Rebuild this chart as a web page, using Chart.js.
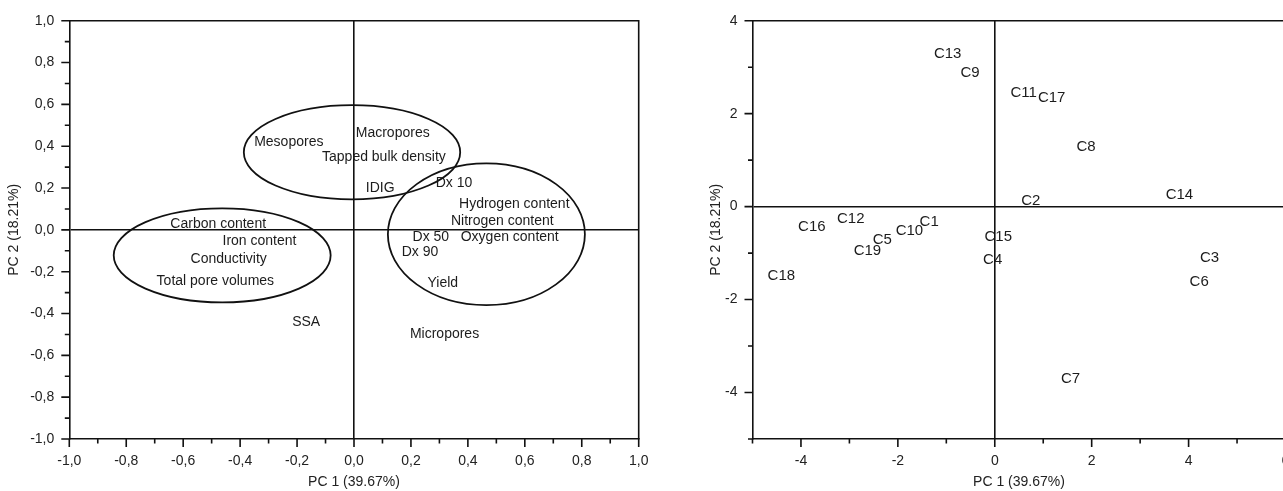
<!DOCTYPE html>
<html>
<head>
<meta charset="utf-8">
<script src="https://cdn.jsdelivr.net/npm/chart.js@4.4.1/dist/chart.umd.min.js"></script>
<style>
html,body{margin:0;padding:0;overflow:hidden;background:#fff;width:1283px;height:491px;}
#loadings{position:absolute;left:0;top:0;}
#scores{position:absolute;left:660px;top:0;}
</style>
</head>
<body>
<canvas id="loadings" width="660" height="491"></canvas>
<canvas id="scores" width="640" height="491"></canvas>
<script>
// ---------- Loading plot (left) ----------
const loadingLabels = ["Macropores","Mesopores","Tapped bulk density","IDIG","Dx 10","Hydrogen content","Nitrogen content","Oxygen content","Dx 50","Dx 90","Yield","Micropores","SSA","Carbon content","Iron content","Conductivity","Total pore volumes"];
const loadingPC1 = [0.136,-0.229,0.105,0.092,0.351,0.563,0.521,0.547,0.270,0.232,0.312,0.318,-0.168,-0.477,-0.332,-0.440,-0.487];
const loadingPC2 = [0.461,0.421,0.349,0.198,0.225,0.123,0.043,-0.033,-0.037,-0.108,-0.253,-0.500,-0.440,0.027,-0.056,-0.140,-0.245];
const loadingTickValues = [-1,-0.8,-0.6,-0.4,-0.2,0,0.2,0.4,0.6,0.8,1];
const loadingTickLabels = ["-1,0","-0,8","-0,6","-0,4","-0,2","0,0","0,2","0,4","0,6","0,8","1,0"];
// grouping ellipses (centre and semi-axes, in loading units)
const groupCenterPC1 = [-0.007,-0.463,0.465];
const groupCenterPC2 = [0.371,-0.122,-0.021];
const groupRadiusPC1 = [0.380,0.381,0.346];
const groupRadiusPC2 = [0.225,0.225,0.339];

// ---------- Score plot (right) ----------
const scoreLabels = ["C1","C2","C3","C4","C5","C6","C7","C8","C9","C10","C11","C12","C13","C14","C15","C16","C17","C18","C19"];
const scorePC1 = [-1.354,0.745,4.434,-0.043,-2.321,4.219,1.565,1.884,-0.509,-1.762,0.595,-2.973,-0.972,3.811,0.072,-3.775,1.175,-4.405,-2.629];
const scorePC2 = [-0.323,0.115,-1.104,-1.147,-0.717,-1.613,-3.700,1.276,2.875,-0.516,2.444,-0.265,3.290,0.258,-0.645,-0.430,2.337,-1.491,-0.961];
const scoreXTickValues = [-4,-2,0,2,4,6];
const scoreXTickLabels = ["-4","-2","0","2","4","6"];
const scoreYTickValues = [-4,-2,0,2,4];
const scoreYTickLabels = ["-4","-2","0","2","4"];

const axisTitleX = "PC 1 (39.67%)";
const axisTitleY = "PC 2 (18.21%)";

Chart.defaults.font.family = "'Liberation Sans', Arial, sans-serif";
Chart.defaults.font.size = 14;
Chart.defaults.color = "#222";

function labelFrom(values, labels) {
  return function(v) {
    for (let i = 0; i < values.length; i++) if (Math.abs(values[i] - v) < 1e-9) return labels[i];
    return "";
  };
}

const framePlugin = {
  id: "frame",
  afterDraw(chart) {
    const ctx = chart.ctx;
    const {left, right, top, bottom} = chart.chartArea;
    const xs = chart.scales.x, ys = chart.scales.y;
    ctx.save();
    ctx.strokeStyle = "#111";
    ctx.lineWidth = 1.6;
    ctx.beginPath();
    ctx.moveTo(left, top); ctx.lineTo(right, top); ctx.lineTo(right, bottom);
    ctx.stroke();
    ctx.beginPath();
    xs.ticks.forEach(t => {
      const px = xs.getPixelForValue(t.value);
      const len = t.label ? 8 : 4.5;
      ctx.moveTo(px, bottom); ctx.lineTo(px, bottom + len);
    });
    ys.ticks.forEach(t => {
      const py = ys.getPixelForValue(t.value);
      const len = t.label ? 8 : 4.5;
      ctx.moveTo(left, py); ctx.lineTo(left - len, py);
    });
    ctx.stroke();
    ctx.restore();
  }
};

const textPlugin = {
  id: "pointText",
  afterDatasetsDraw(chart) {
    const ctx = chart.ctx;
    const ds = chart.data.datasets[0];
    const meta = chart.getDatasetMeta(0);
    ctx.save();
    ctx.fillStyle = "#1c1c1c";
    ctx.font = ds.textSize + "px 'Liberation Sans', Arial, sans-serif";
    ctx.textAlign = "center";
    ctx.textBaseline = "middle";
    meta.data.forEach((el, i) => ctx.fillText(ds.pointText[i], el.x, el.y));
    ctx.restore();
  }
};

const ellipsePlugin = {
  id: "groups",
  afterDatasetsDraw(chart, args, opts) {
    if (!opts || !opts.cx) return;
    const ctx = chart.ctx;
    const xs = chart.scales.x, ys = chart.scales.y;
    ctx.save();
    ctx.strokeStyle = "#111";
    ctx.lineWidth = 1.8;
    for (let i = 0; i < opts.cx.length; i++) {
      const px = xs.getPixelForValue(opts.cx[i]);
      const py = ys.getPixelForValue(opts.cy[i]);
      const rx = Math.abs(xs.getPixelForValue(opts.cx[i] + opts.rx[i]) - px);
      const ry = Math.abs(ys.getPixelForValue(opts.cy[i] + opts.ry[i]) - py);
      ctx.beginPath();
      ctx.ellipse(px, py, rx, ry, 0, 0, Math.PI * 2);
      ctx.stroke();
    }
    ctx.restore();
  }
};

function zeroGrid(ctx) {
  return ctx.tick && Math.abs(ctx.tick.value) < 1e-9 ? "#111" : "rgba(0,0,0,0)";
}

function makeScales(o) {
  return {
    x: {
      type: "linear", min: o.xmin, max: o.xmax,
      afterFit(s) { s.height = 52; },
      afterBuildTicks(s) {
        const t = [];
        for (let v = o.xmin; v <= o.xmax + 1e-9; v += o.xstep) t.push({value: Math.round(v * 1000) / 1000});
        s.ticks = t;
      },
      ticks: {autoSkip: false, maxRotation: 0, padding: 0, color: "#222", callback: labelFrom(o.xvals, o.xlabels)},
      grid: {drawOnChartArea: true, drawTicks: true, tickLength: 14, tickColor: "rgba(0,0,0,0)", color: zeroGrid, lineWidth: 1.6},
      border: {display: true, color: "#111", width: 1.6},
      title: {display: true, text: axisTitleX, color: "#222", font: {size: 14}, padding: {top: 0, bottom: 0}}
    },
    y: {
      type: "linear", min: o.ymin, max: o.ymax,
      afterFit(s) { s.width = o.yw; },
      afterBuildTicks(s) {
        const t = [];
        for (let v = o.ymin; v <= o.ymax + 1e-9; v += o.ystep) t.push({value: Math.round(v * 1000) / 1000});
        s.ticks = t;
      },
      ticks: {autoSkip: false, padding: 0, color: "#222", callback: labelFrom(o.yvals, o.ylabels)},
      grid: {drawOnChartArea: true, drawTicks: true, tickLength: 15, tickColor: "rgba(0,0,0,0)", color: zeroGrid, lineWidth: 1.6},
      border: {display: true, color: "#111", width: 1.6},
      title: {display: true, text: axisTitleY, color: "#222", font: {size: 14}, padding: {top: 5.6, bottom: 0}}
    }
  };
}

new Chart(document.getElementById("loadings"), {
  type: "scatter",
  data: {
    datasets: [{
      data: loadingPC1.map((x, i) => ({x: x, y: loadingPC2[i]})),
      pointText: loadingLabels, textSize: 14,
      pointRadius: 0, pointHoverRadius: 0
    }]
  },
  options: {
    responsive: false, animation: false, devicePixelRatio: 1,
    layout: {padding: {left: 0, top: 20.7, right: 21.3, bottom: 0}},
    plugins: {
      legend: {display: false}, tooltip: {enabled: false},
      groups: {cx: groupCenterPC1, cy: groupCenterPC2, rx: groupRadiusPC1, ry: groupRadiusPC2}
    },
    scales: makeScales({xmin: -1, xmax: 1, xstep: 0.1, ymin: -1, ymax: 1, ystep: 0.1,
      xvals: loadingTickValues, xlabels: loadingTickLabels, yvals: loadingTickValues, ylabels: loadingTickLabels, yw: 69.3})
  },
  plugins: [framePlugin, textPlugin, ellipsePlugin]
});

new Chart(document.getElementById("scores"), {
  type: "scatter",
  data: {
    datasets: [{
      data: scorePC1.map((x, i) => ({x: x, y: scorePC2[i]})),
      pointText: scoreLabels, textSize: 15,
      pointRadius: 0, pointHoverRadius: 0
    }]
  },
  options: {
    responsive: false, animation: false, devicePixelRatio: 1,
    layout: {padding: {left: 42.4, top: 20.7, right: 14.5, bottom: 0}},
    plugins: {legend: {display: false}, tooltip: {enabled: false}},
    scales: makeScales({xmin: -5, xmax: 6, xstep: 1, ymin: -5, ymax: 4, ystep: 1,
      xvals: scoreXTickValues, xlabels: scoreXTickLabels, yvals: scoreYTickValues, ylabels: scoreYTickLabels, yw: 50.1})
  },
  plugins: [framePlugin, textPlugin]
});
</script>
</body>
</html>
